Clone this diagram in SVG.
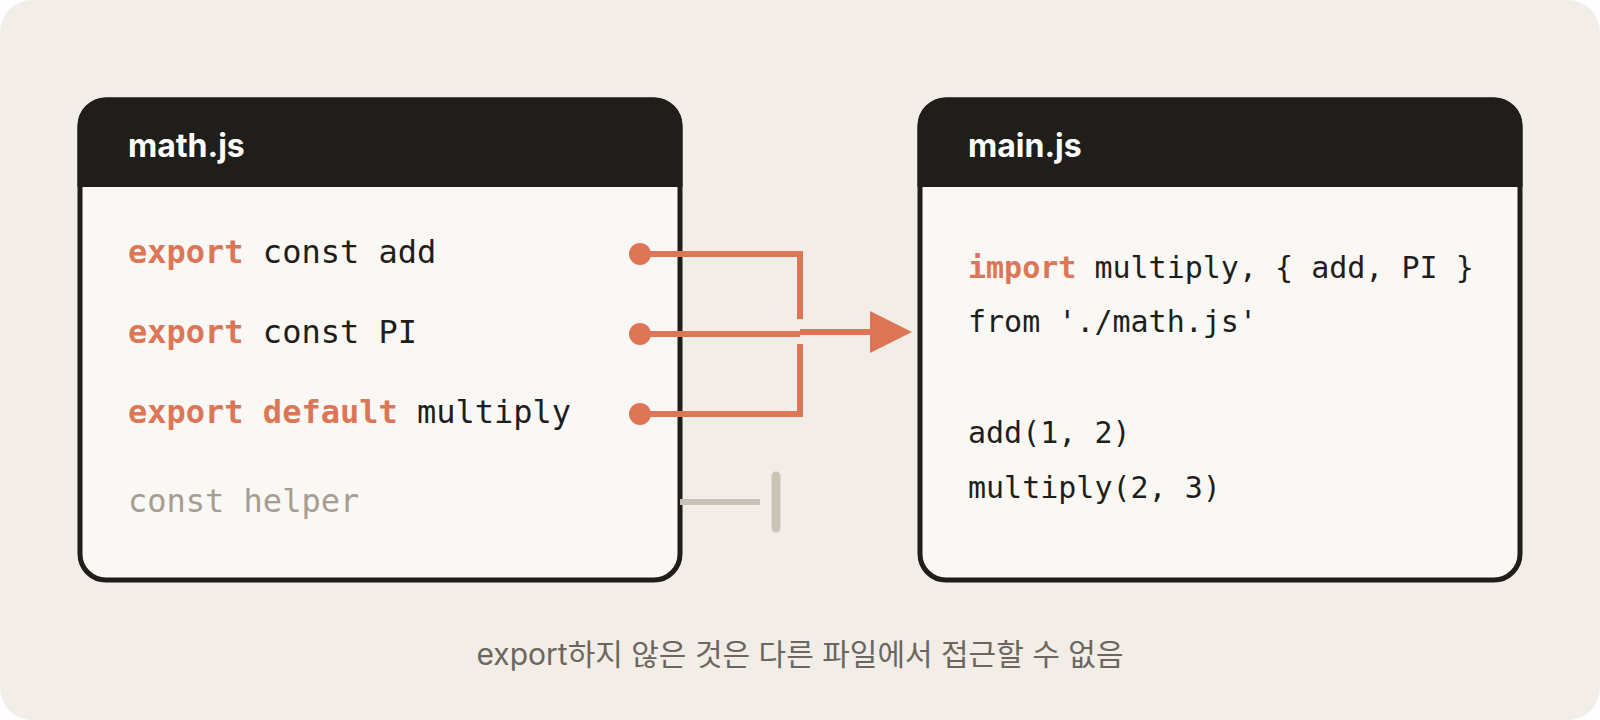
<svg xmlns="http://www.w3.org/2000/svg" width="1600" height="720" viewBox="0 0 1600 720">
  <style>
    .box { fill: #faf8f4; stroke: #1f1e1b; stroke-width: 5; }
    .hdr { fill: #1f1e1b; }
    .title { font-family: Inter, "Liberation Sans", sans-serif; font-weight: 700; font-size: 32px; fill: #ffffff; }
    .code { font-family: "DejaVu Sans Mono", "Liberation Mono", monospace; fill: #1f1e1b; }
    .kw { fill: #dc7656; font-weight: 700; }
    .dim { fill: #a59d92; }
    .wire { fill: none; stroke: #dc7656; stroke-width: 6; }
    .dot { fill: #dc7656; }
    .blocked { fill: none; stroke: #c9c2b5; stroke-width: 6; }
    .caption { font-family: Inter, "Noto Sans CJK KR", sans-serif; font-size: 30px; fill: #6b6660; }
  </style>
  <defs>
    <marker id="arrow" viewBox="0 0 42 42" refX="0" refY="21" markerWidth="42" markerHeight="42" markerUnits="userSpaceOnUse" orient="auto">
      <path d="M0,0 L42,21 L0,42 Z" fill="#dc7656"/>
    </marker>
  </defs>
  <rect x="0" y="0" width="1600" height="720" fill="#ffffff"/>
  <rect x="0" y="0" width="1600" height="720" rx="32" fill="#f2eee7"/>

  <g id="math-js">
    <rect class="box" x="80" y="100" width="600" height="480" rx="26"/>
    <path class="hdr" d="M77.5,187 L77.5,126 A28.5,28.5 0 0 1 106,97.5 L654,97.5 A28.5,28.5 0 0 1 682.5,126 L682.5,187 Z"/>
    <text class="title" x="128" y="157">math.js</text>
    <text class="code" x="128" y="263" font-size="32"><tspan class="kw">export</tspan> const add</text>
    <text class="code" x="128" y="343" font-size="32"><tspan class="kw">export</tspan> const PI</text>
    <text class="code" x="128" y="423" font-size="32"><tspan class="kw">export</tspan> <tspan class="kw">default</tspan> multiply</text>
    <text class="code dim" x="128" y="512" font-size="32">const helper</text>
  </g>

  <g id="main-js">
    <rect class="box" x="920" y="100" width="600" height="480" rx="26"/>
    <path class="hdr" d="M917.5,187 L917.5,126 A28.5,28.5 0 0 1 946,97.5 L1494,97.5 A28.5,28.5 0 0 1 1522.5,126 L1522.5,187 Z"/>
    <text class="title" x="968" y="157">main.js</text>
    <text class="code" x="968" y="278" font-size="30"><tspan class="kw">import</tspan> multiply, { add, PI }</text>
    <text class="code" x="968" y="332" font-size="30">from './math.js'</text>
    <text class="code" x="968" y="443" font-size="30">add(1, 2)</text>
    <text class="code" x="968" y="498" font-size="30">multiply(2, 3)</text>
  </g>

  <g id="connectors">
    <circle class="dot" cx="640" cy="254" r="11"/>
    <circle class="dot" cx="640" cy="334" r="11"/>
    <circle class="dot" cx="640" cy="414" r="11"/>
    <polyline class="wire" points="640,254 800,254 800,319"/>
    <polyline class="wire" points="640,414 800,414 800,344"/>
    <line class="wire" x1="640" y1="334" x2="800" y2="334"/>
    <line class="wire" x1="800" y1="332" x2="870" y2="332" marker-end="url(#arrow)"/>
    <line class="blocked" x1="680" y1="502" x2="760" y2="502"/>
    <line x1="776" y1="476" x2="776" y2="528" stroke="#c9c2b5" stroke-width="9" stroke-linecap="round"/>
  </g>

  <text class="caption" x="800" y="665" text-anchor="middle">export하지 않은 것은 다른 파일에서 접근할 수 없음</text>
</svg>
